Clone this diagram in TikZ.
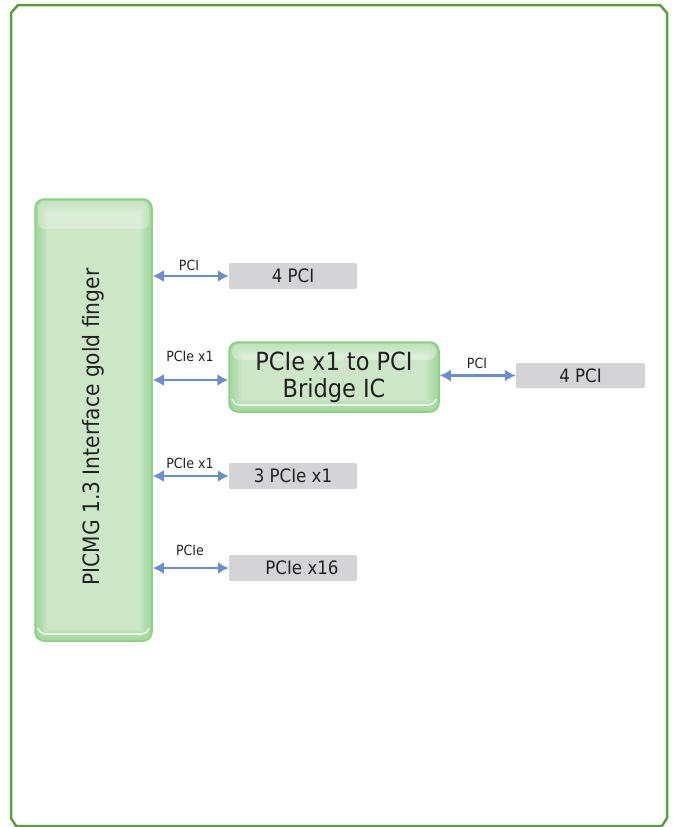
\documentclass[tikz,border=0pt]{standalone}
\usepackage{fontspec}
\setmainfont{DejaVu Sans Condensed}
\usetikzlibrary{arrows.meta}
\definecolor{framegreen}{HTML}{5B9E3F}
\definecolor{boxedge}{HTML}{8CCF85}
\definecolor{boxfill}{HTML}{CDE6C8}
\definecolor{slotgray}{HTML}{D4D4D6}
\definecolor{linkblue}{HTML}{6C8ECB}
\definecolor{txt}{HTML}{222222}
\tikzset{
  greenbox/.style={draw=boxedge, line width=1.5pt, rounded corners=9pt, fill=boxfill,
    path picture={
      \foreach \w in {4,8,...,24}
        \draw[boxedge,line width=\w pt,opacity=0.13,rounded corners=9pt]
          (path picture bounding box.south west) rectangle (path picture bounding box.north east);
      \fill[white,opacity=0.3,rounded corners=7pt]
        ([xshift=3pt,yshift=-2pt]path picture bounding box.north west) rectangle
        ([xshift=-3pt,yshift=-#1]path picture bounding box.north east);
      \draw[white,opacity=0.7,line width=1.6pt,rounded corners=5pt]
        ([xshift=3pt,yshift=13pt]path picture bounding box.south west) --
        ([xshift=5pt,yshift=7pt]path picture bounding box.south west) --
        ([xshift=-5pt,yshift=7pt]path picture bounding box.south east) --
        ([xshift=-3pt,yshift=13pt]path picture bounding box.south east);}},
  greenbox/.default=30pt,
  slot/.style={fill=slotgray, rounded corners=2pt, minimum width=128pt,
    minimum height=26pt, inner sep=0pt, text=txt, font=\fontsize{18.5}{22}\selectfont},
  link/.style={<->, linkblue, line width=2.4pt},
  lbl/.style={text=txt, inner sep=0pt, font=\fontsize{14}{16}\selectfont}
}
\begin{document}
\begin{tikzpicture}[x=1pt,y=-1pt,>={Latex[length=11pt,width=12pt]},line join=round]
\useasboundingbox (0,0) rectangle (673,827);
% outer frame
\draw[framegreen,line width=2.5pt] (11,13)--(18,5)--(660,5)--(667,13)--(667,818)--(662,826)--(16,826)--(11,818)--cycle;
% edge connector and bridge
\node[greenbox,minimum width=117pt,minimum height=442pt] (finger) at (93.5,420) {};
\node[rotate=90,text=txt,font=\fontsize{22.5}{27}\selectfont] (fingertxt) at (93,427) {PICMG 1.3 Interface gold finger};
\node[greenbox=18pt,minimum width=210pt,minimum height=70pt,align=center,text=txt,
  font=\fontsize{25}{27}\selectfont] (bridge) at (334,377) {PCIe x1 to PCI\\Bridge IC};
\coordinate (bridgein) at ([yshift=-3pt]bridge.west);
% slots
\node[slot] (pciA) at (293,276) {4 PCI};
\node[slot,minimum width=129pt,minimum height=25pt] (pciB) at (580.5,375.5) {4 PCI};
\node[slot] (pcieA) at (293,476) {3 PCIe x1};
\node[slot] (pcieB) at (293,568) {\hspace*{18pt}PCIe x16};
% links
\draw[link] (finger.east |- pciA.west) -- (pciA.west);
\draw[link] (finger.east |- bridgein) -- (bridgein);
\draw[link] (finger.east |- pcieA.west) -- (pcieA.west);
\draw[link] (finger.east |- pcieB.west) -- (pcieB.west);
\draw[link] (bridge.east |- pciB.west) -- (pciB.west);
\node[lbl] (l1) at (189,265) {PCI};
\node[lbl] (l2) at (190,356) {PCIe x1};
\node[lbl] (l3) at (190,463) {PCIe x1};
\node[lbl] (l4) at (190,550) {PCIe};
\node[lbl] (l5) at (477,363) {PCI};
\end{tikzpicture}
\end{document}
